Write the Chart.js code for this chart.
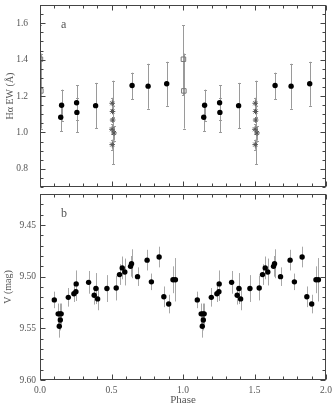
<!DOCTYPE html>
<html><head><meta charset="utf-8">
<script src="https://cdn.jsdelivr.net/npm/chart.js@4"></script>
<style>
html,body{margin:0;padding:0;background:#fff;width:333px;height:407px;overflow:hidden}
#w1{position:absolute;left:0;top:0;width:333px;height:192px}
#w2{position:absolute;left:0;top:190px;width:333px;height:217px}
</style></head><body>
<div id="w1"><canvas id="c1"></canvas></div>
<div id="w2"><canvas id="c2"></canvas></div>
<script>
// ---- Panel a: H-alpha equivalent width (phase 0-1; plotted twice, at phase and phase+1) ----
const ewPhase = [0.145, 0.151, 0.256, 0.258, 0.389, 0.644, 0.756, 0.886];
const ewValue = [1.083, 1.149, 1.163, 1.110, 1.147, 1.258, 1.254, 1.267];
const ewLow   = [1.005, 1.065, 1.070, 1.000, 1.023, 1.183, 1.130, 1.146];
const ewHigh  = [1.160, 1.235, 1.258, 1.190, 1.272, 1.328, 1.377, 1.388];

const starPhase = [0.505, 0.507, 0.508, 0.503, 0.518, 0.505];
const starValue = [1.160, 1.115, 1.068, 1.017, 0.997, 0.933];
const starLow   = [1.130, 1.085, 0.826, 0.990, 0.955, 0.905];
const starHigh  = [1.190, 1.145, 1.284, 1.045, 1.035, 0.960];

const sqPhase = [0.003, 0.006];
const sqValue = [1.402, 1.228];
const sqLow   = [1.205, 1.021];
const sqHigh  = [1.588, 1.433];

// ---- Panel b: V magnitude ----
const vPhase = [0.100, 0.127, 0.140, 0.148, 0.142, 0.135, 0.198, 0.237, 0.251, 0.253,
                0.340, 0.379, 0.391, 0.403, 0.468, 0.533, 0.556, 0.575, 0.593, 0.633,
                0.640, 0.682, 0.749, 0.779, 0.833, 0.866, 0.900, 0.930, 0.947];
const vMag   = [9.5225, 9.536, 9.536, 9.536, 9.542, 9.548, 9.520, 9.5165, 9.5145, 9.507,
                9.5055, 9.518, 9.5115, 9.5215, 9.5115, 9.511, 9.498, 9.4915, 9.4955, 9.490,
                9.4875, 9.500, 9.484, 9.505, 9.481, 9.5195, 9.5265, 9.503, 9.503];
const vErr   = [0.008, 0.010, 0.010, 0.010, 0.010, 0.011, 0.009, 0.008, 0.009, 0.013,
                0.011, 0.009, 0.015, 0.011, 0.013, 0.012, 0.010, 0.011, 0.013, 0.010,
                0.014, 0.009, 0.010, 0.008, 0.010, 0.010, 0.009, 0.013, 0.021];

// ---- Tick labels ----
const phaseTicks = [0.0, 0.5, 1.0, 1.5, 2.0];
const ewTicks = [0.8, 1.0, 1.2, 1.4, 1.6];
const vTicks = [9.45, 9.50, 9.55, 9.60];

const AX = '#444', TXT = '#555';
const SERIF = '"Liberation Serif", "DejaVu Serif", serif';

// two cycles of phase
function twoCycles(ph, val, lo, hi) {
  const pts = [], L = [], H = [];
  for (let k = 0; k < 2; k++) {
    ph.forEach((p, i) => { pts.push({x: p + k, y: val[i]}); L.push(lo[i]); H.push(hi[i]); });
  }
  return {pts, L, H};
}

const errPlugin = {
  id: 'errbars',
  beforeDatasetsDraw(chart) {
    const {ctx, chartArea: a} = chart;
    const xs = chart.scales.x, ys = chart.scales.y;
    ctx.save();
    ctx.beginPath(); ctx.rect(a.left, a.top - 1, a.right - a.left, a.bottom - a.top + 2); ctx.clip();
    chart.data.datasets.forEach(ds => {
      if (!ds.errLo) return;
      ctx.strokeStyle = ds.errColor; ctx.lineWidth = 1;
      ds.data.forEach((p, i) => {
        const x = Math.round(xs.getPixelForValue(p.x)) + 0.5;
        const y1 = ys.getPixelForValue(ds.errLo[i]), y2 = ys.getPixelForValue(ds.errHi[i]);
        ctx.beginPath(); ctx.moveTo(x, y1); ctx.lineTo(x, y2);
        if (ds.cap) {
          ctx.moveTo(x - ds.cap, Math.round(y1) + 0.5); ctx.lineTo(x + ds.cap, Math.round(y1) + 0.5);
          ctx.moveTo(x - ds.cap, Math.round(y2) + 0.5); ctx.lineTo(x + ds.cap, Math.round(y2) + 0.5);
        }
        ctx.stroke();
      });
    });
    ctx.restore();
  }
};

function frameTicks(cfg) {
  return {
    id: 'frame',
    afterDraw(chart) {
      const {ctx, chartArea: a} = chart;
      const xs = chart.scales.x, ys = chart.scales.y;
      const L = Math.round(a.left) + 0.5, R = Math.round(a.right) - 0.5;
      const T = Math.round(a.top) + 0.5, B = Math.round(a.bottom) - 0.5;
      ctx.save();
      ctx.strokeStyle = AX; ctx.lineWidth = 1;
      ctx.strokeRect(L, T, R - L, B - T);
      ctx.beginPath();
      const nx = Math.round((cfg.xMax - cfg.xMin) / cfg.xStep);
      for (let i = 0; i <= nx; i++) {
        const v = cfg.xMin + i * cfg.xStep;
        const len = (i % cfg.xEvery === 0) ? 5 : 3;
        const x = Math.round(xs.getPixelForValue(v)) + 0.5;
        ctx.moveTo(x, B); ctx.lineTo(x, B - len);
        ctx.moveTo(x, T); ctx.lineTo(x, T + len);
      }
      const ny = Math.round((cfg.yMax - cfg.yMin) / cfg.yStep);
      for (let i = 0; i <= ny; i++) {
        const v = cfg.yMin + i * cfg.yStep;
        const major = cfg.yMajor.some(m => Math.abs(m - v) < 1e-6);
        const len = major ? 5 : 3;
        const y = Math.round(ys.getPixelForValue(v)) + 0.5;
        ctx.moveTo(L, y); ctx.lineTo(L + len, y);
        ctx.moveTo(R, y); ctx.lineTo(R - len, y);
      }
      ctx.stroke();
      ctx.fillStyle = TXT; ctx.font = '12px ' + SERIF;
      ctx.textBaseline = 'middle'; ctx.textAlign = 'left';
      ctx.fillText(cfg.letter, a.left + 21, a.top + 20);
      ctx.restore();
    }
  };
}

function yAxis(min, max, ticks, dec, pad, title, reverse, tpad) {
  return {
    type: 'linear', min, max, reverse,
    afterFit: s => { s.width = 40; s.paddingTop = 0; s.paddingBottom = 0; },
    afterBuildTicks: s => { s.ticks = ticks.map(v => ({value: v})); },
    grid: {display: false, drawTicks: false},
    border: {display: false},
    ticks: {color: TXT, font: {family: SERIF, size: 9.5}, padding: pad,
            callback: v => Number(v).toFixed(dec)},
    title: {display: true, text: title, color: TXT, font: {family: SERIF, size: 10},
            padding: {top: tpad, bottom: 0}}
  };
}

const ew = twoCycles(ewPhase, ewValue, ewLow, ewHigh);
const st = twoCycles(starPhase, starValue, starLow, starHigh);
const sq = twoCycles(sqPhase, sqValue, sqLow, sqHigh);
const vv = twoCycles(vPhase, vMag, vMag.map((m, i) => m - vErr[i]), vMag.map((m, i) => m + vErr[i]));

const common = {
  responsive: true, maintainAspectRatio: false, animation: false, devicePixelRatio: 1,
  plugins: {legend: {display: false}, tooltip: {enabled: false}}
};

new Chart(document.getElementById('c1'), {
  type: 'scatter',
  data: {datasets: [
    {data: sq.pts, errLo: sq.L, errHi: sq.H, errColor: '#9a9a9a', cap: 1.5,
     pointStyle: 'rect', pointRadius: 3.2, backgroundColor: 'rgba(255,255,255,0)', borderColor: '#777', borderWidth: 1},
    {data: st.pts, errLo: st.L, errHi: st.H, errColor: '#9a9a9a', cap: 1.5,
     pointStyle: 'star', pointRadius: 2.8, backgroundColor: '#555', borderColor: '#555', borderWidth: 1},
    {data: ew.pts, errLo: ew.L, errHi: ew.H, errColor: '#9a9a9a', cap: 1.5,
     pointStyle: 'circle', pointRadius: 2.7, backgroundColor: '#000', borderColor: '#000', borderWidth: 0}
  ]},
  options: Object.assign({}, common, {
    layout: {padding: {left: 0, right: 7, top: 1, bottom: 1}},
    scales: {
      x: {type: 'linear', min: 0, max: 2, display: false},
      y: yAxis(0.7, 1.7, ewTicks, 1, 12, 'Hα EW (Å)', false, 4)
    }
  }),
  plugins: [errPlugin, frameTicks({xMin: 0, xMax: 2, xStep: 0.1, xEvery: 5,
    yMin: 0.7, yMax: 1.7, yStep: 0.05, yMajor: ewTicks, letter: 'a'})]
});

new Chart(document.getElementById('c2'), {
  type: 'scatter',
  data: {datasets: [
    {data: vv.pts, errLo: vv.L, errHi: vv.H, errColor: '#a8a8a8', cap: 0,
     pointStyle: 'circle', pointRadius: 2.7, backgroundColor: '#000', borderColor: '#000', borderWidth: 0}
  ]},
  options: Object.assign({}, common, {
    layout: {padding: {left: 0, right: 7, top: 1, bottom: 0}},
    scales: {
      x: {type: 'linear', min: 0, max: 2,
          afterFit: s => { s.height = 27; s.paddingLeft = 0; s.paddingRight = 0; },
          afterBuildTicks: s => { s.ticks = phaseTicks.map(v => ({value: v})); },
          grid: {display: false, drawTicks: false}, border: {display: false},
          ticks: {color: TXT, font: {family: SERIF, size: 9.5}, padding: 5, maxRotation: 0,
                  callback: v => Number(v).toFixed(1)},
          title: {display: true, text: 'Phase', color: TXT, font: {family: SERIF, size: 11},
                  padding: {top: 0, bottom: 0}}},
      y: yAxis(9.42, 9.60, vTicks, 2, 4, 'V (mag)', true, 2)
    }
  }),
  plugins: [errPlugin, frameTicks({xMin: 0, xMax: 2, xStep: 0.1, xEvery: 5,
    yMin: 9.42, yMax: 9.60, yStep: 0.01, yMajor: vTicks, letter: 'b'})]
});
</script>
</body></html>
